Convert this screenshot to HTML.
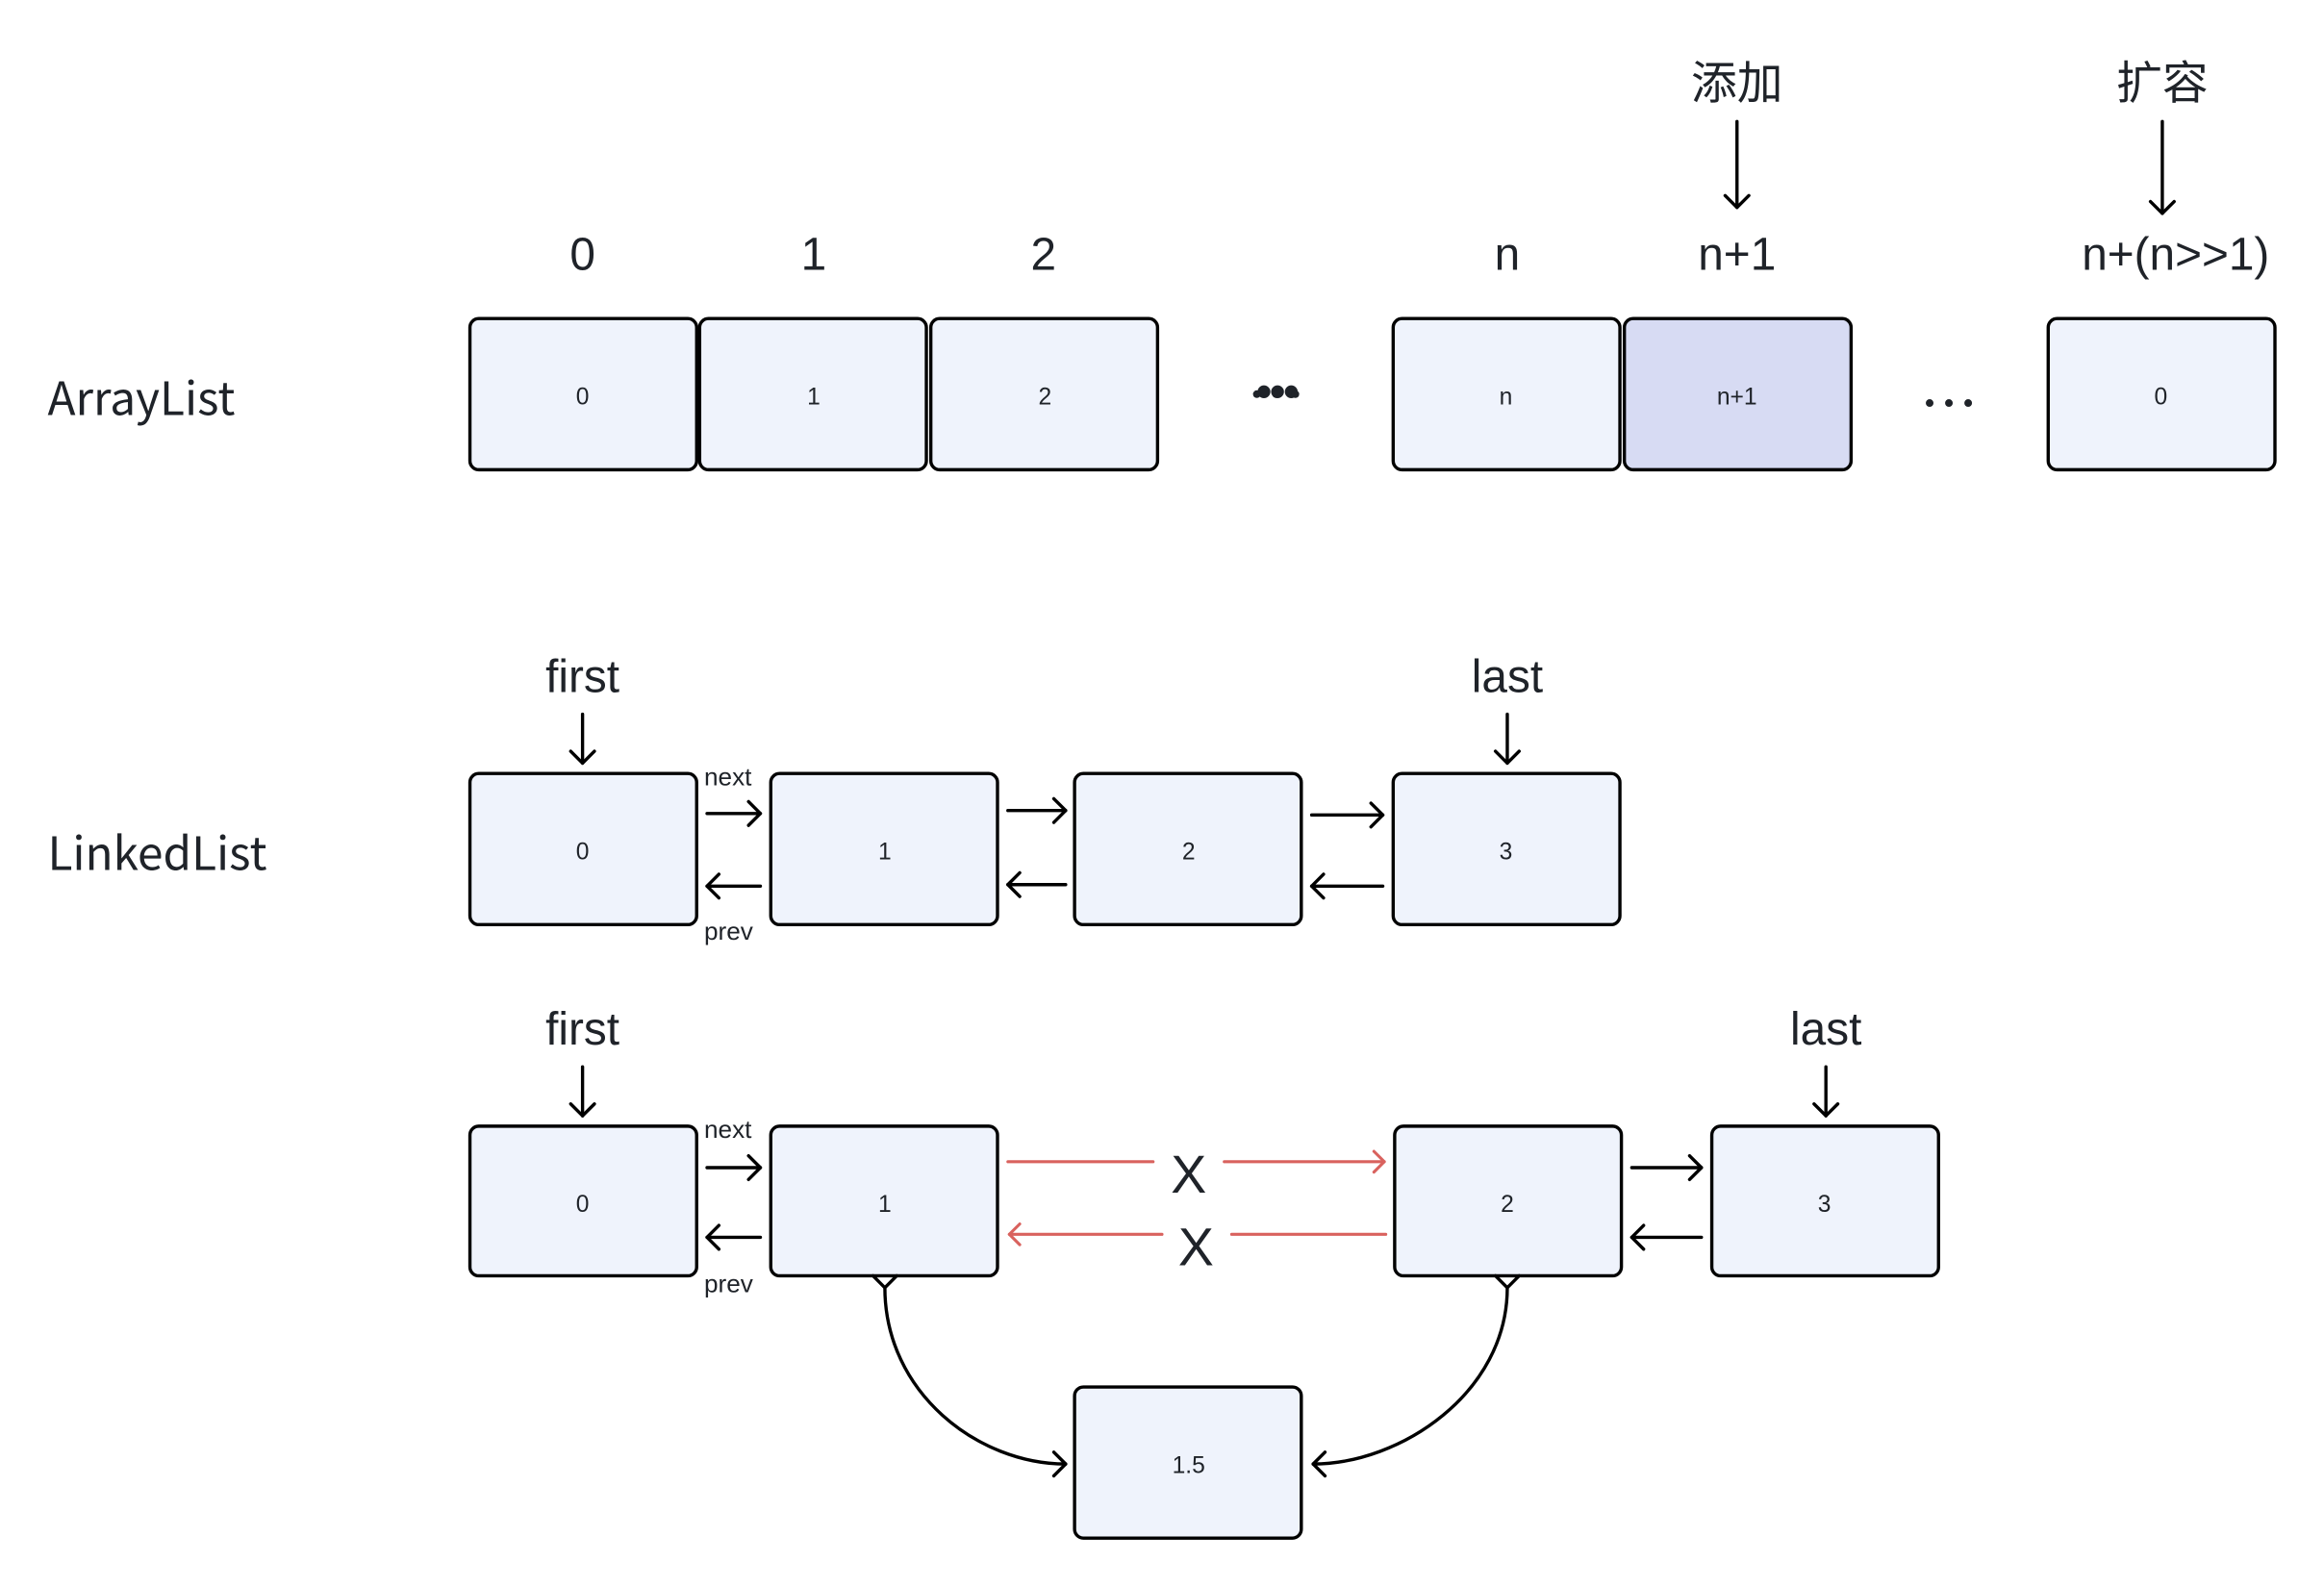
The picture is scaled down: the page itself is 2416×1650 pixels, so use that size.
<!DOCTYPE html>
<html><head><meta charset="utf-8">
<style>
html,body{margin:0;padding:0;background:#fff;}
svg{display:block;}
text{font-family:"Liberation Sans","Noto Sans CJK SC",sans-serif;fill:#1f2329;}
.big{font-family:"Noto Sans CJK SC","Liberation Sans",sans-serif;font-size:31px;}
.sm{font-family:"Noto Sans CJK SC","Liberation Sans",sans-serif;font-size:16px;}
.lb{font-family:"Noto Sans CJK SC","Liberation Sans",sans-serif;font-size:17px;}
</style></head><body>
<svg width="2416" height="1650" viewBox="0 0 1568 1071" xmlns="http://www.w3.org/2000/svg">
<defs>
<marker id="a" markerUnits="userSpaceOnUse" markerWidth="20" markerHeight="20" refX="10" refY="10" orient="auto">
<path d="M2,2 L10,10 L2,18" fill="none" stroke="#000" stroke-width="2.2" stroke-linecap="round" stroke-linejoin="round"/>
</marker>
<marker id="r" markerUnits="userSpaceOnUse" markerWidth="20" markerHeight="20" refX="10" refY="10" orient="auto">
<path d="M3,3 L10,10 L3,17" fill="none" stroke="#d9625e" stroke-width="2" stroke-linecap="round" stroke-linejoin="round"/>
</marker>
</defs>
<g stroke="#000" stroke-width="2.2" fill="#eff3fc">
<rect x="317" y="215" width="153" height="102" rx="6"/>
<rect x="472" y="215" width="153" height="102" rx="6"/>
<rect x="628" y="215" width="153" height="102" rx="6"/>
<rect x="940" y="215" width="153" height="102" rx="6"/>
<rect x="1096" y="215" width="153" height="102" rx="6" fill="#d7dbf3"/>
<rect x="1382" y="215" width="153" height="102" rx="6"/>
<rect x="317" y="522" width="153" height="102" rx="6"/>
<rect x="520" y="522" width="153" height="102" rx="6"/>
<rect x="725" y="522" width="153" height="102" rx="6"/>
<rect x="940" y="522" width="153" height="102" rx="6"/>
<rect x="317" y="760" width="153" height="101" rx="6"/>
<rect x="520" y="760" width="153" height="101" rx="6"/>
<rect x="941" y="760" width="153" height="101" rx="6"/>
<rect x="1155" y="760" width="153" height="101" rx="6"/>
<rect x="725" y="936" width="153" height="102" rx="6"/>
</g>
<g class="sm" text-anchor="middle">
<text x="393" y="273">0</text><text x="549" y="273">1</text><text x="705" y="273">2</text>
<text x="1016" y="273">n</text><text x="1172" y="273">n+1</text><text x="1458" y="273">0</text>
<text x="393" y="580">0</text><text x="597" y="580">1</text><text x="802" y="580">2</text><text x="1016" y="580">3</text>
<text x="393" y="818">0</text><text x="597" y="818">1</text><text x="1017" y="818">2</text><text x="1231" y="818">3</text>
<text x="802" y="994">1.5</text>
</g>
<g class="big" text-anchor="middle">
<text x="393" y="182">0</text><text x="549" y="182">1</text><text x="704" y="182">2</text>
<text x="1017" y="182">n</text><text x="1172" y="182">n+1</text><text x="1468" y="182">n+(n&gt;&gt;1)</text>
<text x="1172" y="67">添加</text><text x="1459" y="67">扩容</text>
<text x="393" y="467">first</text><text x="1017" y="467">last</text>
<text x="393" y="705">first</text><text x="1232" y="705">last</text>
</g>
<text class="big" x="32" y="280">ArrayList</text>
<text class="big" x="32" y="587">LinkedList</text>
<g font-size="32" text-anchor="middle" fill="#1f2329">
<text x="861" y="275" style="font-family:'Liberation Sans',sans-serif;letter-spacing:-2px">•••</text>
</g>
<g fill="#1f2329"><circle cx="848" cy="266" r="2.6"/><circle cx="861" cy="266" r="2.6"/><circle cx="874" cy="266" r="2.6"/>
<circle cx="1302" cy="272" r="2.6"/><circle cx="1315" cy="272" r="2.6"/><circle cx="1328" cy="272" r="2.6"/></g>
<g class="lb"><text x="475" y="530">next</text><text x="475" y="634">prev</text>
<text x="475" y="768">next</text><text x="475" y="872">prev</text></g>
<g stroke="#000" stroke-width="2.2" fill="none" stroke-linecap="round">
<line x1="1172" y1="82" x2="1172" y2="140" marker-end="url(#a)"/>
<line x1="1459" y1="82" x2="1459" y2="144" marker-end="url(#a)"/>
<line x1="393" y1="482" x2="393" y2="515" marker-end="url(#a)"/>
<line x1="1017" y1="482" x2="1017" y2="515" marker-end="url(#a)"/>
<line x1="393" y1="720" x2="393" y2="753" marker-end="url(#a)"/>
<line x1="1232" y1="720" x2="1232" y2="753" marker-end="url(#a)"/>
<line x1="477" y1="549" x2="513" y2="549" marker-end="url(#a)"/>
<line x1="513" y1="598" x2="477" y2="598" marker-end="url(#a)"/>
<line x1="680" y1="547" x2="719" y2="547" marker-end="url(#a)"/>
<line x1="719" y1="597" x2="680" y2="597" marker-end="url(#a)"/>
<line x1="885" y1="550" x2="933" y2="550" marker-end="url(#a)"/>
<line x1="933" y1="598" x2="885" y2="598" marker-end="url(#a)"/>
<line x1="477" y1="788" x2="513" y2="788" marker-end="url(#a)"/>
<line x1="513" y1="835" x2="477" y2="835" marker-end="url(#a)"/>
<line x1="1101" y1="788" x2="1148" y2="788" marker-end="url(#a)"/>
<line x1="1148" y1="835" x2="1101" y2="835" marker-end="url(#a)"/>
<path d="M597,869 C597,940 660,988 719,988" marker-start="url(#a)" marker-end="url(#a)"/>
<path d="M1017,869 C1017,940 945,988 886,988" marker-start="url(#a)" marker-end="url(#a)"/>
</g>
<g stroke="#d9625e" stroke-width="2" fill="none" stroke-linecap="round">
<line x1="680" y1="784" x2="778" y2="784"/>
<line x1="826" y1="784" x2="934" y2="784" marker-end="url(#r)"/>
<line x1="784" y1="833" x2="681" y2="833" marker-end="url(#r)"/>
<line x1="935" y1="833" x2="831" y2="833"/>
</g>
<g style="font-family:'Noto Sans CJK SC',sans-serif;font-size:36px;fill:#d9625e" text-anchor="middle">
<text x="802" y="805">X</text><text x="807" y="854">X</text>
</g>
</svg>
</body></html>
